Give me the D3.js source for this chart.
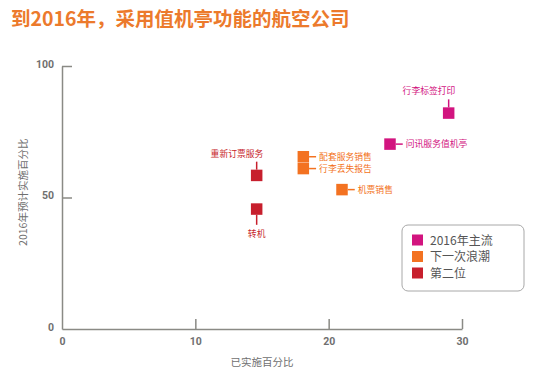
<!DOCTYPE html>
<html>
<head>
<meta charset="utf-8">
<script src="https://cdn.jsdelivr.net/npm/d3@7"></script>
<style>
	body { margin: 0; background: #fff; }
	svg { font-family: 'Noto Sans CJK SC', 'Noto Sans', sans-serif; }
</style>
</head>
<body>
<svg id="chart" width="550" height="375"></svg>
<script>
// data
const names = ['行李标签打印', '问讯服务值机亭', '配套服务销售', '行李丢失报告', '机票销售', '重新订票服务', '转机']
const implemented = [29.0, 24.6, 18.1, 18.1, 21.0, 14.6, 14.6]
const planned = [82.1, 70.3, 65.5, 61.0, 53.0, 58.4, 45.6]
const groups = ['2016年主流', '2016年主流', '下一次浪潮', '下一次浪潮', '下一次浪潮', '第二位', '第二位']
// where each label sits relative to its square
const labelSide = ['top', 'right', 'right', 'right', 'right', 'top', 'bottom']
const legendNames = ['2016年主流', '下一次浪潮', '第二位']
const xTicks = [0, 10, 20, 30]
const yTicks = [0, 50, 100]

const points = names.map((n, i) => ({
	name: n,
	x: implemented[i],
	y: planned[i],
	group: groups[i],
	side: labelSide[i]
}))

const svg = d3.select('#chart')
const margin = { top: 66, right: 88, bottom: 46, left: 62 }
const width = 550 - margin.left - margin.right
const height = 375 - margin.top - margin.bottom

const x = d3.scaleLinear().domain([0, 30]).range([0, width])
const y = d3.scaleLinear().domain([0, 100]).range([height, 0])
const color = d3.scaleOrdinal().domain(legendNames).range(['#d2147f', '#f37221', '#c71f2d'])

svg.append('text')
	.attr('x', 11)
	.attr('y', 26)
	.attr('fill', '#ec7a2c')
	.attr('font-size', 19.5)
	.attr('font-weight', 'bold')
	.text('到2016年，采用值机亭功能的航空公司')

const g = svg.append('g')
	.attr('transform', 'translate(' + margin.left + ',' + margin.top + ')')

// axes, ticks point inward
const xAxis = g.append('g')
	.attr('transform', 'translate(0,' + height + ')')
	.call(d3.axisBottom(x).tickValues(xTicks).tickSize(-10).tickSizeOuter(0).tickPadding(6))
const yAxis = g.append('g')
	.call(d3.axisLeft(y).tickValues(yTicks).tickSize(-10).tickSizeOuter(0).tickPadding(8))

;[xAxis, yAxis].forEach(a => {
	a.select('.domain').attr('stroke', '#8a8a85').attr('stroke-width', 1.5)
	a.selectAll('.tick line').attr('stroke', '#8a8a85').attr('stroke-width', 1.5)
	a.selectAll('.tick text')
		.attr('fill', '#707070')
		.attr('font-size', 10.5)
		.attr('font-weight', 'bold')
		.attr('font-family', 'Roboto, sans-serif')
})
xAxis.selectAll('.tick text').attr('dy', '0.95em')
yAxis.selectAll('.tick text').attr('dy', '0.1em')
// no tick mark at the origin
xAxis.selectAll('.tick').filter(d => d === 0).select('line').remove()
yAxis.selectAll('.tick').filter(d => d === 0).select('line').remove()

g.append('text')
	.attr('x', x(15))
	.attr('y', height + 37)
	.attr('text-anchor', 'middle')
	.attr('fill', '#6f6f6f')
	.attr('font-size', 10.5)
	.text('已实施百分比')

g.append('text')
	.attr('transform', 'translate(' + -35 + ',' + y(52) + ') rotate(-90)')
	.attr('text-anchor', 'middle')
	.attr('fill', '#6f6f6f')
	.attr('font-size', 10.5)
	.text('2016年预计实施百分比')

// points
const sq = 11.5
const pt = g.selectAll('g.pt')
	.data(points)
	.enter()
	.append('g')
	.attr('class', 'pt')
	.attr('transform', d => 'translate(' + x(d.x) + ',' + y(d.y) + ')')

pt.append('rect')
	.attr('x', -sq / 2)
	.attr('y', -sq / 2)
	.attr('width', sq)
	.attr('height', sq)
	.attr('fill', d => color(d.group))

pt.append('line')
	.attr('x1', d => d.side === 'right' ? sq / 2 : 0)
	.attr('x2', d => d.side === 'right' ? sq / 2 + 7 : 0)
	.attr('y1', d => d.side === 'top' ? -sq / 2 : d.side === 'bottom' ? sq / 2 : 0)
	.attr('y2', d => d.side === 'top' ? -sq / 2 - 8 : d.side === 'bottom' ? sq / 2 + 10 : 0)
	.attr('stroke', d => color(d.group))
	.attr('stroke-width', 1.5)

pt.append('text')
	.attr('x', d => d.side === 'right' ? sq / 2 + 10 : d.side === 'top' ? sq / 2 + 1 : 0)
	.attr('y', d => d.side === 'top' ? -sq / 2 - 13 : d.side === 'bottom' ? sq / 2 + 22 : 0)
	.attr('dy', d => d.side === 'right' ? '0.35em' : 0)
	.attr('text-anchor', d => d.side === 'right' ? 'start' : d.side === 'top' ? 'end' : 'middle')
	.attr('fill', d => color(d.group))
	.attr('font-size', 8.8)
	.text(d => d.name)

// legend
const legend = svg.append('g').attr('transform', 'translate(402,225)')
legend.append('rect')
	.attr('width', 122)
	.attr('height', 66)
	.attr('rx', 6)
	.attr('fill', '#fff')
	.attr('stroke', '#a8a8a8')
	.attr('stroke-width', 1)

const item = legend.selectAll('g.item')
	.data(legendNames)
	.enter()
	.append('g')
	.attr('class', 'item')
	.attr('transform', (d, i) => 'translate(10,' + (15 + i * 16.5) + ')')

item.append('rect')
	.attr('x', 0)
	.attr('y', -5.5)
	.attr('width', 11)
	.attr('height', 11)
	.attr('fill', d => color(d))

item.append('text')
	.attr('x', 18)
	.attr('dy', '0.38em')
	.attr('fill', '#555')
	.attr('font-size', 12)
	.text(d => d)
</script>
</body>
</html>
